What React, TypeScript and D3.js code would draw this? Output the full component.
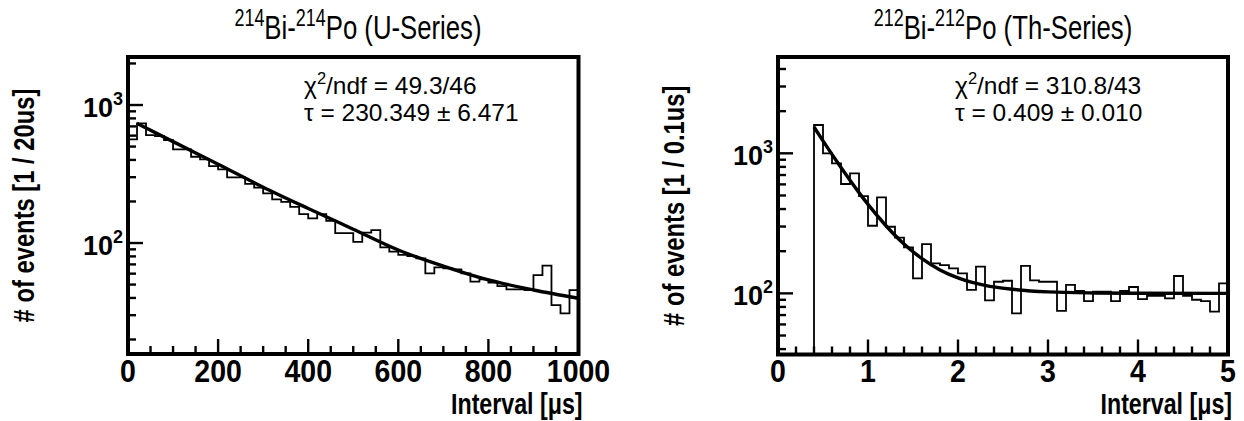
import React from 'react';
import * as d3 from 'd3';

const FONT = "'Liberation Sans', Arial, Helvetica, sans-serif";

// ---------- Left panel: 214Bi-214Po (U-Series) ----------
const uBinStart = 0;
const uBinWidth = 20;
const uCounts = [
  564, 737, 606, 596, 557, 477, 477, 422, 404, 361,
  342, 299, 299, 268, 252, 229, 207, 199, 183, 162,
  151, 162, 145, 118, 118, 102, 119, 124, 93, 86.5,
  82, 80.5, 77.4, 60.3, 66.6, 65.5, 64.5, 60.3, 52.5, 54.6,
  51.6, 48.8, 46.2, 46.2, 45.6, 58.6, 68.5, 35.5, 30.9, 45.6,
];
const uFitT = [20, 100, 200, 300, 400, 500, 600, 700, 800, 900, 1000];
const uFitV = [737, 543, 372, 254, 178, 126, 89, 68, 54, 45.7, 39.8];
const uXDomain = [0, 1000];
const uYDomain = [15.7, 2228];
const uXMajor = [0, 200, 400, 600, 800, 1000];
const uXMinorStep = 50;
const uYMajorExp = [2, 3];

// ---------- Right panel: 212Bi-212Po (Th-Series) ----------
const thBinStart = 0.4;
const thBinWidth = 0.1;
const thCounts = [
  1593, 1000, 848, 604, 720, 495, 304, 485, 299, 250,
  213, 128, 225, 164, 159, 151, 139, 106, 155, 89,
  121, 123, 72, 157, 124, 121, 121, 75, 115, 104,
  88, 103, 103, 88, 104, 111, 91, 96, 96, 92,
  133, 96, 90, 88, 74, 118,
];
const thFitT = [0.4, 0.5, 0.6, 0.7, 0.8, 0.9, 1.0, 1.2, 1.4, 1.6, 1.8, 2.0, 2.3, 2.6, 3.0, 3.5, 4.0, 5.0];
const thFitV = [1540, 1228, 983, 792, 642, 524, 432, 304, 225, 177, 147, 129, 114, 107, 102.5, 100.7, 100.2, 100];
const thXDomain = [0, 5];
const thYDomain = [36.6, 4872];
const thXMajor = [0, 1, 2, 3, 4, 5];
const thXMinorStep = 0.2;
const thYMajorExp = [2, 3];

const panels = [
  {
    key: 'u',
    frame: { x0: 128, x1: 578.5, y0: 57, y1: 354 },
    binStart: uBinStart, binWidth: uBinWidth, counts: uCounts,
    fitT: uFitT, fitV: uFitV,
    xDomain: uXDomain, yDomain: uYDomain,
    xMajor: uXMajor, xMinorStep: uXMinorStep, yMajorExp: uYMajorExp,
    titleIso: '214', titleA: 'Bi-', titleB: 'Po (U-Series)',
    yLabel: '# of events [1 / 20us]',
    chi2: '49.3/46', tau: '230.349 \u00B1 6.471',
    fromBottom: false,
    titleX: 358, yLabelX: 34, textX: 304,
  },
  {
    key: 'th',
    frame: { x0: 778, x1: 1228, y0: 57, y1: 354.5 },
    binStart: thBinStart, binWidth: thBinWidth, counts: thCounts,
    fitT: thFitT, fitV: thFitV,
    xDomain: thXDomain, yDomain: thYDomain,
    xMajor: thXMajor, xMinorStep: thXMinorStep, yMajorExp: thYMajorExp,
    titleIso: '212', titleA: 'Bi-', titleB: 'Po (Th-Series)',
    yLabel: '# of events [1 / 0.1us]',
    chi2: '310.8/43', tau: '0.409 \u00B1 0.010',
    fromBottom: true,
    titleX: 1003, yLabelX: 684, textX: 955,
  },
];

function Panel({ p }: { p: any }) {
  const { x0, x1, y0, y1 } = p.frame;
  const x = d3.scaleLinear().domain(p.xDomain).range([x0, x1]);
  const y = d3.scaleLog().domain(p.yDomain).range([y1, y0]);

  const n = p.counts.length;
  const pts: [number, number][] = p.counts.map((c: number, i: number) => [p.binStart + i * p.binWidth, c]);
  pts.push([p.binStart + n * p.binWidth, p.counts[n - 1]]);
  if (p.fromBottom) pts.unshift([p.binStart, p.yDomain[0]]);
  const histLine = d3.line<[number, number]>()
    .x(d => x(d[0]))
    .y(d => y(d[1]))
    .curve(d3.curveStepAfter);

  const fitPts: [number, number][] = p.fitT.map((t: number, i: number) => [t, p.fitV[i]]);
  const fitLine = d3.line<[number, number]>()
    .x(d => x(d[0]))
    .y(d => y(d[1]))
    .curve(d3.curveMonotoneX);

  const xMinor = d3.range(p.xDomain[0], p.xDomain[1] + p.xMinorStep / 2, p.xMinorStep)
    .filter((v: number) => !p.xMajor.some((m: number) => Math.abs(m - v) < 1e-6));
  const yTicks = y.ticks();
  const isMajorY = (v: number) => Math.abs(Math.log10(v) - Math.round(Math.log10(v))) < 1e-6;

  const majLen = 15;
  const minLen = 8;

  return (
    <g>
      {/* title */}
      <text transform={`translate(${p.titleX},39) scale(0.78,1)`} textAnchor="middle" fontSize={33} fontFamily={FONT}>
        <tspan fontSize={23} dy={-13}>{p.titleIso}</tspan>
        <tspan dy={13}>{p.titleA}</tspan>
        <tspan fontSize={23} dy={-13}>{p.titleIso}</tspan>
        <tspan dy={13}>{p.titleB}</tspan>
      </text>

      {/* histogram */}
      <path d={histLine(pts) || ''} fill="none" stroke="#000" strokeWidth={1.8} />
      {/* fit */}
      <path d={fitLine(fitPts) || ''} fill="none" stroke="#000" strokeWidth={3.4} />

      {/* y ticks */}
      {yTicks.map((v: number, i: number) => (
        <line key={'yt' + i} x1={x0} x2={x0 + (isMajorY(v) ? majLen : minLen)} y1={y(v)} y2={y(v)}
          stroke="#000" strokeWidth={2.4} />
      ))}
      {/* x ticks */}
      {p.xMajor.map((v: number, i: number) => (
        <line key={'xM' + i} x1={x(v)} x2={x(v)} y1={y1} y2={y1 - majLen} stroke="#000" strokeWidth={2.4} />
      ))}
      {xMinor.map((v: number, i: number) => (
        <line key={'xm' + i} x1={x(v)} x2={x(v)} y1={y1} y2={y1 - minLen} stroke="#000" strokeWidth={2.4} />
      ))}

      {/* frame */}
      <rect x={x0} y={y0} width={x1 - x0} height={y1 - y0} fill="none" stroke="#000" strokeWidth={4} />

      {/* x tick labels */}
      {p.xMajor.map((v: number, i: number) => (
        <text key={'xl' + i} transform={`translate(${x(v)},382) scale(0.92,1)`} textAnchor="middle"
          fontSize={31} fontWeight="bold" fontFamily={FONT}>
          {String(v)}
        </text>
      ))}
      {/* y tick labels */}
      {p.yMajorExp.map((e: number, i: number) => (
        <text key={'yl' + i} x={x0 - 5} y={y(Math.pow(10, e)) + 12} textAnchor="end" fontSize={27} fontWeight="bold" fontFamily={FONT}>
          10<tspan fontSize={18} dy={-12}>{e}</tspan>
        </text>
      ))}

      {/* axis titles */}
      <text transform={`translate(${x1 + 4},414) scale(0.8,1)`} textAnchor="end" fontSize={29} fontWeight="bold" fontFamily={FONT}>
        Interval [{'\u03BC'}s]
      </text>
      <text transform={`translate(${p.yLabelX},${(y0 + y1) / 2}) rotate(-90) scale(0.82,1)`} textAnchor="middle"
        fontSize={29} fontWeight="bold" fontFamily={FONT}>
        {p.yLabel}
      </text>

      {/* fit result text */}
      <text x={p.textX} y={94} fontSize={24.5} fontFamily={FONT}>
        {'\u03C7'}<tspan fontSize={16.5} dy={-10.5}>2</tspan><tspan dy={10.5}>/ndf = {p.chi2}</tspan>
      </text>
      <text x={p.textX} y={121} fontSize={24.5} fontFamily={FONT}>
        {'\u03C4'} = {p.tau}
      </text>
    </g>
  );
}

export default function App() {
  return (
    <svg width={1244} height={421} style={{ position: 'absolute', left: 0, top: 0, background: '#fff' }}>
      <rect x={0} y={0} width={1244} height={421} fill="#fff" />
      {panels.map(p => <Panel key={p.key} p={p} />)}
    </svg>
  );
}
